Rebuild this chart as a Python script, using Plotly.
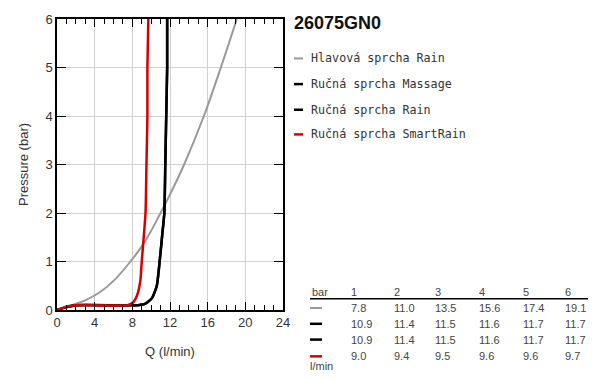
import plotly.graph_objects as go

# ---- data ----
title_text = "26075GN0"
series_names = ["Hlavová sprcha Rain", "Ručná sprcha Massage", "Ručná sprcha Rain", "Ručná sprcha SmartRain"]
series_colors = ["#999999", "#000000", "#000000", "#d40000"]

gray_q = [0, 1.5, 3.0, 4.5, 6.0, 7.8, 9.3, 11.0, 12.3, 13.5, 15.6, 17.4, 19.1]
gray_p = [0, 0.1, 0.2, 0.36, 0.6, 1.0, 1.4, 2.0, 2.5, 3.0, 4.0, 5.0, 6.0]

massage_q = [0, 1, 2, 8.6, 9.4, 10.1, 10.6, 10.9, 11.2, 11.4, 11.5, 11.6, 11.7, 11.7]
massage_p = [0, 0.06, 0.1, 0.1, 0.13, 0.25, 0.5, 1.0, 1.6, 2.0, 3.0, 4.0, 5.0, 6.0]

rain_q = [0, 1, 2, 8.6, 9.4, 10.1, 10.6, 10.9, 11.2, 11.4, 11.5, 11.6, 11.7, 11.7]
rain_p = [0, 0.06, 0.1, 0.1, 0.13, 0.25, 0.5, 1.0, 1.6, 2.0, 3.0, 4.0, 5.0, 6.0]

smart_q = [0, 1, 1.9, 7.5, 8.1, 8.5, 8.85, 9.0, 9.4, 9.5, 9.6, 9.6, 9.7]
smart_p = [0, 0.07, 0.1, 0.1, 0.16, 0.3, 0.6, 1.0, 2.0, 3.0, 4.0, 5.0, 6.0]

table_header = ["1", "2", "3", "4", "5", "6"]
table_rows = [
    ["7.8", "11.0", "13.5", "15.6", "17.4", "19.1"],
    ["10.9", "11.4", "11.5", "11.6", "11.7", "11.7"],
    ["10.9", "11.4", "11.5", "11.6", "11.7", "11.7"],
    ["9.0", "9.4", "9.5", "9.6", "9.6", "9.7"],
]

# ---- figure ----
W, H = 600, 379
fig = go.Figure()
xs = [gray_q, massage_q, rain_q, smart_q]
ys = [gray_p, massage_p, rain_p, smart_p]
widths = [2, 2.5, 2.5, 2.5]
smooths = [1.0, 0.5, 0.5, 0.5]
for q, p, c, w, s, n in zip(xs, ys, series_colors, widths, smooths, series_names):
    fig.add_trace(go.Scatter(x=q, y=p, mode="lines", name=n,
                             line=dict(color=c, width=w, shape="spline", smoothing=s),
                             showlegend=False, hoverinfo="skip"))

L, R, T, B = 57, 283, 15, 310
def px(x):
    return (x - L) / (R - L)
def py(y):
    return (B - y) / (B - T)

ann = []
shapes = []
# title
ann.append(dict(text="<b>" + title_text + "</b>", x=px(292), y=py(19), xref="paper", yref="paper",
                xanchor="left", yanchor="middle", showarrow=False,
                font=dict(family="Liberation Sans Narrow, Liberation Sans, Arial", size=18, color="#111")))
# legend
leg_y = [55, 81, 107, 132]
for yy, n, c in zip(leg_y, series_names, series_colors):
    shapes.append(dict(type="line", xref="paper", yref="paper", x0=px(294), x1=px(303),
                       y0=py(yy), y1=py(yy), line=dict(color=c, width=2 if c == "#999999" else 2.5)))
    ann.append(dict(text=n, x=px(309), y=py(yy), xref="paper", yref="paper",
                    xanchor="left", yanchor="middle", showarrow=False,
                    font=dict(family="DejaVu Sans Mono", size=11.7, color="#333")))
# table
col_x = [349, 392, 433, 477, 521, 563]
tf = dict(family="Liberation Sans, Arial", size=11, color="#444")
ann.append(dict(text="bar", x=px(310), y=py(292), xref="paper", yref="paper",
                xanchor="left", yanchor="middle", showarrow=False, font=tf))
for cx, h in zip(col_x, table_header):
    ann.append(dict(text=h, x=px(cx), y=py(292), xref="paper", yref="paper",
                    xanchor="left", yanchor="middle", showarrow=False, font=tf))
shapes.append(dict(type="line", xref="paper", yref="paper", x0=px(310), x1=px(588),
                   y0=py(298.5), y1=py(298.5), line=dict(color="#000", width=1.5)))
row_y = [308, 324, 340, 357]
for ry, row, c in zip(row_y, table_rows, series_colors):
    shapes.append(dict(type="line", xref="paper", yref="paper", x0=px(310), x1=px(322),
                       y0=py(ry), y1=py(ry), line=dict(color=c, width=2 if c == "#999999" else 2.5)))
    for cx, v in zip(col_x, row):
        ann.append(dict(text=v, x=px(cx), y=py(ry), xref="paper", yref="paper",
                        xanchor="left", yanchor="middle", showarrow=False, font=tf))
ann.append(dict(text="l/min", x=px(308), y=py(367), xref="paper", yref="paper",
                xanchor="left", yanchor="middle", showarrow=False, font=tf))

axfont = dict(family="Liberation Sans, Arial", size=13, color="#333")
fig.update_layout(
    width=W, height=H, margin=dict(l=L, r=W - R, t=T, b=H - B),
    paper_bgcolor="white", plot_bgcolor="white",
    annotations=ann, shapes=shapes,
    xaxis=dict(range=[0, 24], dtick=4, tick0=0, showgrid=True, gridcolor="#d0d0d0", gridwidth=1,
               showline=True, linecolor="#000", linewidth=1.5, mirror="allticks",
               ticks="inside", ticklen=8, tickcolor="#000", tickwidth=1,
               minor=dict(dtick=1, ticks="inside", ticklen=5, tickcolor="#000", showgrid=False),
               zeroline=False, tickfont=axfont,
               title=dict(text="Q (l/min)", font=axfont, standoff=18)),
    yaxis=dict(range=[0, 6], dtick=1, showgrid=True, gridcolor="#d0d0d0", gridwidth=1,
               showline=True, linecolor="#000", linewidth=1.5, mirror="allticks",
               ticks="inside", ticklen=9, tickcolor="#000", tickwidth=1,
               zeroline=False, tickfont=axfont,
               title=dict(text="Pressure (bar)", font=axfont, standoff=14)),
)
fig.write_html("out.html")
